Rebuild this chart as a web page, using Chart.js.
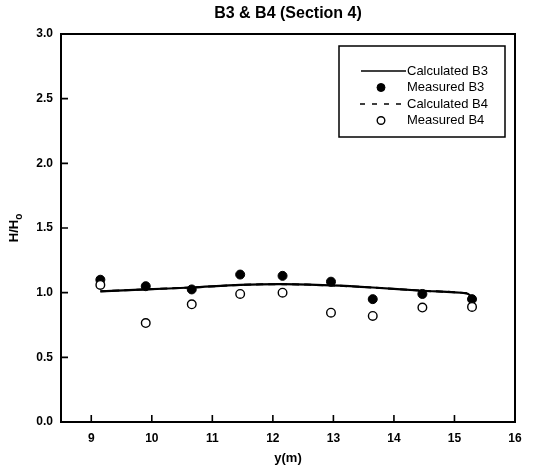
<!DOCTYPE html>
<html>
<head>
<meta charset="utf-8">
<script src="https://cdn.jsdelivr.net/npm/chart.js@4"></script>
<style>
  html, body { margin: 0; padding: 0; background: #fff; }
  #wrap { width: 549px; height: 475px; }
</style>
</head>
<body>
<div id="wrap"><canvas id="chart" width="549" height="475"></canvas></div>
<script>
// measurement positions along the section (m)
const yPos = [9.15, 9.90, 10.66, 11.46, 12.16, 12.96, 13.65, 14.47, 15.29];
const measuredB3 = [1.10, 1.05, 1.025, 1.14, 1.13, 1.085, 0.95, 0.99, 0.95];
const measuredB4 = [1.06, 0.765, 0.91, 0.99, 1.00, 0.845, 0.82, 0.885, 0.89];

// computed wave height ratio curves
const calcX = [9.15, 9.9, 10.66, 11.46, 12.16, 12.96, 13.65, 14.47, 15.2, 15.29];
const calcB3 = [1.01, 1.025, 1.04, 1.06, 1.066, 1.056, 1.04, 1.015, 0.995, 0.965];
const calcB4 = [1.01, 1.025, 1.04, 1.06, 1.066, 1.056, 1.04, 1.015, 0.995, 0.965];

const xTicks = [9, 10, 11, 12, 13, 14, 15, 16];
const yTicks = [0, 0.5, 1.0, 1.5, 2.0, 2.5, 3.0];

const FONT = "'Liberation Sans', Arial, sans-serif";

const toXY = (xs, ys) => xs.map((x, i) => ({ x: x, y: ys[i] }));

// frame, inward ticks, titles and the boxed legend
const decor = {
  id: "decor",
  afterDraw(chart) {
    const ctx = chart.ctx;
    const a = chart.chartArea;
    const xs = chart.scales.x, ys = chart.scales.y;
    ctx.save();
    ctx.strokeStyle = "#000";
    ctx.lineWidth = 2;
    ctx.strokeRect(a.left, a.top, a.right - a.left, a.bottom - a.top);

    ctx.lineWidth = 1.6;
    ctx.beginPath();
    xTicks.forEach(v => {
      const px = xs.getPixelForValue(v);
      ctx.moveTo(px, a.bottom);
      ctx.lineTo(px, a.bottom - 7);
    });
    yTicks.forEach(v => {
      const py = ys.getPixelForValue(v);
      ctx.moveTo(a.left, py);
      ctx.lineTo(a.left + 7, py);
    });
    ctx.stroke();

    ctx.fillStyle = "#000";
    ctx.textAlign = "center";
    ctx.textBaseline = "middle";
    ctx.font = "bold 16px " + FONT;
    ctx.fillText("B3 & B4 (Section 4)", (a.left + a.right) / 2, 14);

    ctx.font = "bold 13px " + FONT;
    ctx.fillText("y(m)", (a.left + a.right) / 2, 458);

    // H/Ho with subscript
    ctx.save();
    ctx.translate(14, (a.top + a.bottom) / 2);
    ctx.rotate(-Math.PI / 2);
    ctx.font = "bold 13px " + FONT;
    const main = "H/H";
    const w = ctx.measureText(main).width;
    ctx.font = "bold 10px " + FONT;
    const ws = ctx.measureText("o").width;
    ctx.textAlign = "left";
    ctx.font = "bold 13px " + FONT;
    ctx.fillText(main, -(w + ws) / 2, 0);
    ctx.font = "bold 10px " + FONT;
    ctx.fillText("o", -(w + ws) / 2 + w, 5);
    ctx.restore();

    // legend
    const bx = 339, by = 46, bw = 166, bh = 91;
    ctx.lineWidth = 1.5;
    ctx.strokeRect(bx, by, bw, bh);
    ctx.font = "13px " + FONT;
    ctx.textAlign = "left";
    const rowY = [71, 87.5, 104, 120.5];
    chart.data.datasets.forEach((ds, i) => {
      const y = rowY[i];
      ctx.strokeStyle = "#000";
      if (ds.showLine) {
        ctx.lineWidth = 1.6;
        ctx.setLineDash(ds.borderDash ? [5, 7] : []);
        ctx.beginPath();
        ctx.moveTo(ds.borderDash ? 360 : 361, y);
        ctx.lineTo(406, y);
        ctx.stroke();
        ctx.setLineDash([]);
      } else {
        ctx.beginPath();
        ctx.arc(381, y, ds.pointRadius - 0.5, 0, Math.PI * 2);
        ctx.fillStyle = ds.pointBackgroundColor;
        ctx.fill();
        ctx.lineWidth = ds.pointBorderWidth;
        ctx.stroke();
      }
      ctx.fillStyle = "#000";
      ctx.fillText(ds.label, 407, y);
    });
    ctx.restore();
  }
};

new Chart(document.getElementById("chart"), {
  type: "scatter",
  data: {
    datasets: [
      {
        label: "Calculated B3",
        data: toXY(calcX, calcB3),
        showLine: true,
        borderColor: "#000",
        borderWidth: 2.2,
        pointRadius: 0,
        tension: 0.3,
        order: 2
      },
      {
        label: "Measured B3",
        data: toXY(yPos, measuredB3),
        showLine: false,
        pointRadius: 4.5,
        pointBackgroundColor: "#000",
        pointBorderColor: "#000",
        pointBorderWidth: 1,
        order: 1
      },
      {
        label: "Calculated B4",
        data: toXY(calcX, calcB4),
        showLine: true,
        borderColor: "#000",
        borderWidth: 2,
        borderDash: [7, 5],
        pointRadius: 0,
        tension: 0.3,
        order: 3
      },
      {
        label: "Measured B4",
        data: toXY(yPos, measuredB4),
        showLine: false,
        pointRadius: 4.3,
        pointBackgroundColor: "#fff",
        pointBorderColor: "#000",
        pointBorderWidth: 1.4,
        order: 0
      }
    ]
  },
  options: {
    responsive: false,
    animation: false,
    layout: { padding: { left: 0, right: 34, top: 34, bottom: 0 } },
    plugins: {
      legend: { display: false },
      title: { display: false },
      tooltip: { enabled: false }
    },
    scales: {
      x: {
        type: "linear",
        min: 8.5,
        max: 16,
        afterBuildTicks: s => { s.ticks = xTicks.map(v => ({ value: v })); },
        afterFit: s => { s.height = 53; },
        grid: { display: false, drawTicks: false },
        border: { display: false },
        ticks: {
          color: "#000",
          padding: 9,
          font: { family: FONT, size: 12, weight: "bold" },
          callback: v => String(v)
        }
      },
      y: {
        type: "linear",
        min: 0,
        max: 3,
        afterBuildTicks: s => { s.ticks = yTicks.map(v => ({ value: v })); },
        afterFit: s => { s.width = 61; },
        grid: { display: false, drawTicks: false },
        border: { display: false },
        ticks: {
          color: "#000",
          padding: 8,
          font: { family: FONT, size: 12, weight: "bold" },
          callback: v => Number(v).toFixed(1)
        }
      }
    }
  },
  plugins: [decor]
});
</script>
</body>
</html>
